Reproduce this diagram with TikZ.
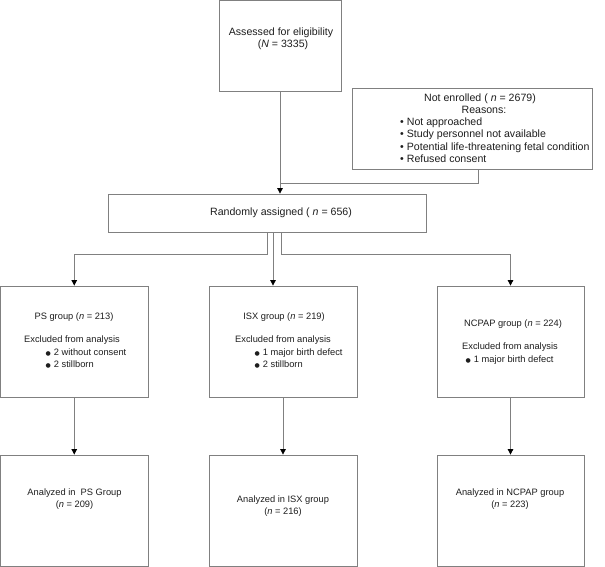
\documentclass[tikz,border=0pt]{standalone}
\usepackage{fontspec}
\setmainfont{Liberation Sans}
\newfontfamily\symfont{DejaVu Sans}
\usetikzlibrary{arrows.meta}
\definecolor{linegray}{RGB}{128,128,128}
\definecolor{txtcol}{RGB}{30,30,30}
\newcommand{\bigfont}{\fontsize{10.6pt}{12pt}\selectfont}
\newcommand{\smallfont}{\fontsize{9.3pt}{11pt}\selectfont}
\newcommand{\bigdot}{{\symfont\fontsize{6pt}{8pt}\selectfont ●}}
\begin{document}
\begin{tikzpicture}[x=1pt,y=-1pt,
  box/.style={draw=linegray, line width=0.8pt, inner sep=0pt, fill=white},
  conn/.style={draw=linegray, line width=0.8pt},
  arr/.style={conn, -{Triangle[width=5.5pt,length=5.5pt,color=black]}},
  bt/.style={inner sep=0pt, text=txtcol, font=\bigfont},
  st/.style={inner sep=0pt, text=txtcol, font=\smallfont}]
\useasboundingbox (0,0) rectangle (605,567);

% boxes
\node[box, minimum width=121.5pt, minimum height=90.5pt] (assess) at (280.25,45.75) {};
\node[box, minimum width=240pt, minimum height=81pt] (notenr) at (472,128.5) {};
\node[box, minimum width=318pt, minimum height=38pt] (random) at (267,213) {};
\node[box, minimum width=147.5pt, minimum height=111pt] (ps) at (74.25,341.5) {};
\node[box, minimum width=148pt, minimum height=111pt] (isx) at (283,341.5) {};
\node[box, minimum width=147pt, minimum height=111pt] (ncpap) at (510.5,341.5) {};
\node[box, minimum width=147.5pt, minimum height=111pt] (psa) at (74.25,510.5) {};
\node[box, minimum width=148pt, minimum height=111pt] (isxa) at (283,510.5) {};
\node[box, minimum width=147pt, minimum height=111pt] (ncpapa) at (510.5,510.5) {};

% texts: top
\node[bt, anchor=mid] (t1a) at (281,33) {Assessed for eligibility};
\node[bt, anchor=mid] (t1b) at (283,45) {(\textit{N} = 3335)};
\node[bt, anchor=mid] (t2a) at (480,98.5) {Not enrolled ( \textit{n} = 2679)};
\node[bt, anchor=mid] (t2b) at (484,110.5) {Reasons:};
\node[bt, anchor=mid west] (t2c) at (400,122.5) {\textbullet\ Not approached};
\node[bt, anchor=mid west] (t2d) at (400,135) {\textbullet\ Study personnel not available};
\node[bt, anchor=mid west] (t2e) at (400,147.5) {\textbullet\ Potential life-threatening fetal condition};
\node[bt, anchor=mid west] (t2f) at (400,160) {\textbullet\ Refused consent};
\node[bt, anchor=mid] (t3) at (281,213) {Randomly assigned ( \textit{n} = 656)};

% texts: row 2
\node[st, anchor=mid] (p1) at (74,317) {PS group (\textit{n} = 213)};
\node[st, anchor=mid west] (p2) at (24,340) {Excluded from analysis};
\node[st, anchor=mid west] (p3) at (45.5,352.5) {\bigdot\hspace{3pt}2 without consent};
\node[st, anchor=mid west] (p4) at (45.5,365) {\bigdot\hspace{3pt}2 stillborn};

\node[st, anchor=mid] (i1) at (284,317) {ISX group (\textit{n} = 219)};
\node[st, anchor=mid west] (i2) at (235,340) {Excluded from analysis};
\node[st, anchor=mid west] (i3) at (254.5,352.5) {\bigdot\hspace{3pt}1 major birth defect};
\node[st, anchor=mid west] (i4) at (254.5,365) {\bigdot\hspace{3pt}2 stillborn};

\node[st, anchor=mid] (n1) at (513,324) {NCPAP group (\textit{n} = 224)};
\node[st, anchor=mid west] (n2) at (462,347) {Excluded from analysis};
\node[st, anchor=mid west] (n3) at (465.5,359.5) {\bigdot\hspace{3pt}1 major birth defect};

% texts: row 3
\node[st, anchor=mid] (pa1) at (74.5,493) {Analyzed in\ \ PS Group};
\node[st, anchor=mid] (pa2) at (74.5,505) {(\textit{n} = 209)};
\node[st, anchor=mid] (ia1) at (283,500) {Analyzed in ISX group};
\node[st, anchor=mid] (ia2) at (283,512) {(\textit{n} = 216)};
\node[st, anchor=mid] (na1) at (510,493) {Analyzed in NCPAP group};
\node[st, anchor=mid] (na2) at (510,505) {(\textit{n} = 223)};

% connectors
\coordinate (j) at (280,183);
\coordinate (k) at (478.5,183);
\coordinate (bl) at (267.5,254);
\coordinate (bm) at (273,254);
\coordinate (br) at (281,254);
\coordinate (ax) at (280,0);

\draw[arr] (assess.south -| ax) -- (random.north -| ax);
\draw[conn] (notenr.south -| k) -- (k) -- (j);
\draw[arr] (random.south -| bl) -- (bl) -| (ps.north);
\draw[arr] (random.south -| bm) -- (bm |- isx.north);
\draw[arr] (random.south -| br) -- (br) -| (ncpap.north);
\draw[arr] (ps.south) -- (psa.north);
\draw[arr] (isx.south) -- (isxa.north);
\draw[arr] (ncpap.south) -- (ncpapa.north);
\end{tikzpicture}
\end{document}
